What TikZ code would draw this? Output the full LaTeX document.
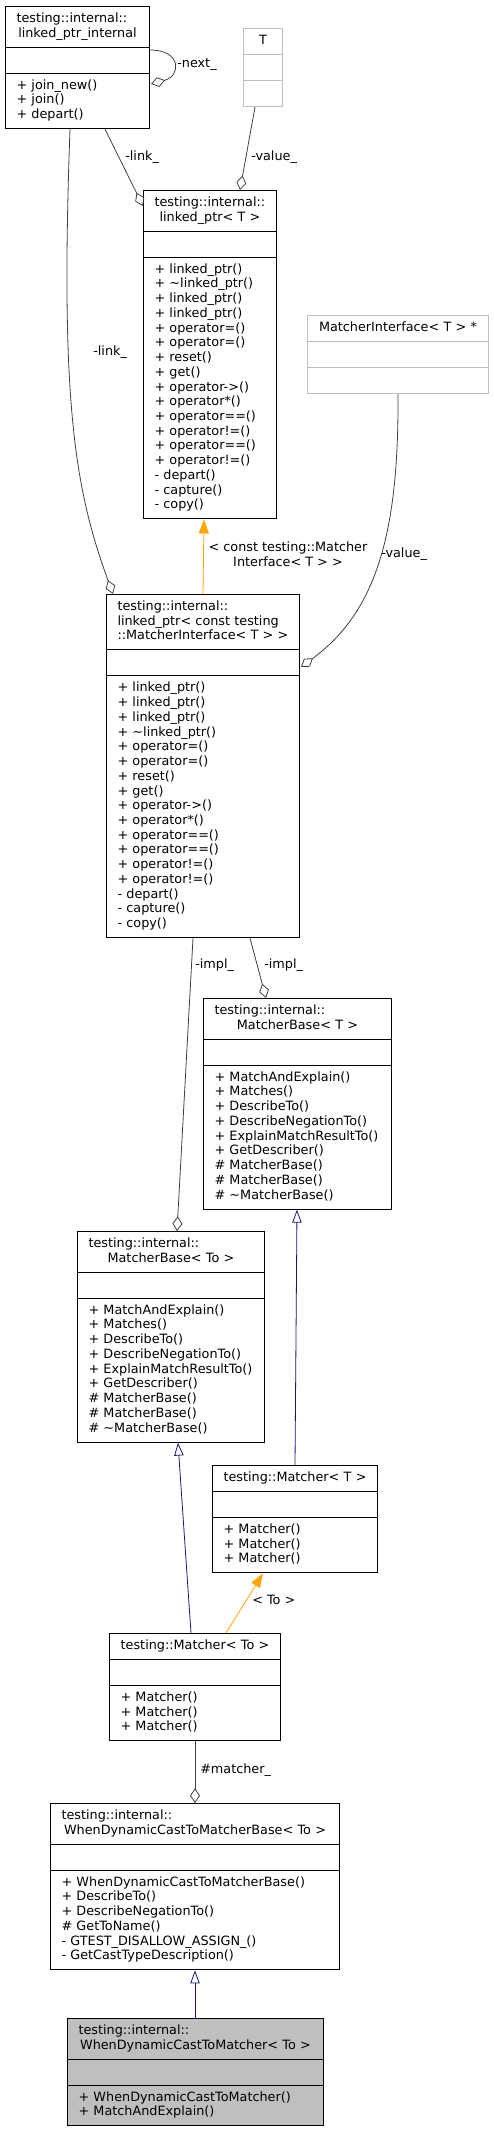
\documentclass[tikz,border=0pt]{standalone}
\usepackage{fontspec}
\setmainfont{DejaVu Sans}
\usetikzlibrary{shapes.multipart,arrows.meta,calc}

\definecolor{edgegray}{HTML}{404040}
\definecolor{boxgray}{HTML}{BFBFBF}
\definecolor{inhblue}{HTML}{191970}
\definecolor{tplorange}{HTML}{FFA500}

\newcommand{\classfont}{\fontsize{9.6pt}{11.05pt}\selectfont\parskip=0pt\relax}
\newcommand{\ctitle}[2]{{\leftskip=8.25pt\rightskip=0pt plus 1fil\relax\strut#1\par}{\centering\strut#2\strut\par}}
\newcommand{\cname}[1]{{\centering\strut#1\strut\par}}
\newcommand{\cbody}[1]{{\leftskip=8.25pt\rightskip=0pt plus 1fil\relax\strut#1\strut\par}}

\tikzset{
  cls/.style={rectangle split, rectangle split parts=3, draw=black, line width=0.75pt,
    text width=#1, inner xsep=0pt, inner ysep=3.85pt, anchor=north west, font=\classfont},
  nodoc/.style={draw=boxgray},
  use/.style={draw=edgegray, line width=0.6pt, -{Diamond[open, length=11pt, width=7.5pt]}},
  inh/.style={draw=inhblue, line width=0.6pt, -{Triangle[open, length=9.75pt, width=7pt]}},
  tpl/.style={draw=tplorange, line width=0.6pt, -{Triangle[length=10.5pt, width=7.5pt, fill=tplorange]}},
  lbl/.style={font=\classfont, inner sep=0pt, anchor=west}
}

\begin{document}
\begin{tikzpicture}[x=0.75pt, y=-0.75pt]
\useasboundingbox (0,0) rectangle (493,2129);

\node (lpi) [cls=108pt] at (5,6) {\ctitle{testing::internal::}{linked\_ptr\_internal}
  \nodepart{two}\strut
  \nodepart{three}\cbody{+ join\_new()\\+ join()\\+ depart()}};
\node (tpar) [cls=29.25pt, nodoc] at (243,28) {\cname{T}
  \nodepart{two}\strut
  \nodepart{three}\strut};
\node (lpt) [cls=99.75pt] at (143,190) {\ctitle{testing::internal::}{linked\_ptr< T >}
  \nodepart{two}\strut
  \nodepart{three}\cbody{+ linked\_ptr()\\+ \textasciitilde linked\_ptr()\\+ linked\_ptr()\\+ linked\_ptr()\\+ operator=()\\+ operator=()\\+ reset()\\+ get()\\+ operator->()\\+ operator*()\\+ operator==()\\+ operator!=()\\+ operator==()\\+ operator!=()\\- depart()\\- capture()\\- copy()}};
\node (mif) [cls=135.75pt, nodoc] at (307,315) {\cname{MatcherInterface< T > *}
  \nodepart{two}\strut
  \nodepart{three}\strut};
\node (lpc) [cls=144.75pt] at (106,594) {\ctitle{testing::internal::\\linked\_ptr< const testing}{::MatcherInterface< T > >}
  \nodepart{two}\strut
  \nodepart{three}\cbody{+ linked\_ptr()\\+ linked\_ptr()\\+ linked\_ptr()\\+ \textasciitilde linked\_ptr()\\+ operator=()\\+ operator=()\\+ reset()\\+ get()\\+ operator->()\\+ operator*()\\+ operator==()\\+ operator==()\\+ operator!=()\\+ operator!=()\\- depart()\\- capture()\\- copy()}};
\node (mbt) [cls=141pt] at (203,998) {\ctitle{testing::internal::}{MatcherBase< T >}
  \nodepart{two}\strut
  \nodepart{three}\cbody{+ MatchAndExplain()\\+ Matches()\\+ DescribeTo()\\+ DescribeNegationTo()\\+ ExplainMatchResultTo()\\+ GetDescriber()\\\# MatcherBase()\\\# MatcherBase()\\\# \textasciitilde MatcherBase()}};
\node (mbto) [cls=140.25pt] at (77,1231) {\ctitle{testing::internal::}{MatcherBase< To >}
  \nodepart{two}\strut
  \nodepart{three}\cbody{+ MatchAndExplain()\\+ Matches()\\+ DescribeTo()\\+ DescribeNegationTo()\\+ ExplainMatchResultTo()\\+ GetDescriber()\\\# MatcherBase()\\\# MatcherBase()\\\# \textasciitilde MatcherBase()}};
\node (mt) [cls=123.75pt] at (212,1465) {\cname{testing::Matcher< T >}
  \nodepart{two}\strut
  \nodepart{three}\cbody{+ Matcher()\\+ Matcher()\\+ Matcher()}};
\node (mto) [cls=128.25pt] at (109,1633) {\cname{testing::Matcher< To >}
  \nodepart{two}\strut
  \nodepart{three}\cbody{+ Matcher()\\+ Matcher()\\+ Matcher()}};
\node (wdb) [cls=216.75pt] at (50,1803) {\ctitle{testing::internal::}{WhenDynamicCastToMatcherBase< To >}
  \nodepart{two}\strut
  \nodepart{three}\cbody{+ WhenDynamicCastToMatcherBase()\\+ DescribeTo()\\+ DescribeNegationTo()\\\# GetToName()\\- GTEST\_DISALLOW\_ASSIGN\_()\\- GetCastTypeDescription()}};
\node (wdm) [cls=192pt, fill=boxgray] at (67,2018) {\ctitle{testing::internal::}{WhenDynamicCastToMatcher< To >}
  \nodepart{two}\strut
  \nodepart{three}\cbody{+ WhenDynamicCastToMatcher()\\+ MatchAndExplain()}};

% Arrows
\draw[use] ($(lpi.north east)+(0,44)$) .. controls +(32,0) and +(30,-8) .. ($(lpi.north east)+(1,78)$);
\draw[use] ($(lpi.south west)+(100,0)$) -- ($(lpt.north west)+(0,16)$);
\draw[use] ($(tpar.south west)+(12,0)$) -- ($(lpt.north west)+(97,0)$);
\draw[use] ($(lpi.south west)+(65,0)$) .. controls +(-10,274) and +(-38,-104) .. ($(lpc.north west)+(7,0)$);
\draw[use] ($(mif.south west)+(91,0)$) .. controls +(1,140) and +(75,-55) .. ($(lpc.north east)+(1,73)$);
\draw[tpl] ($(lpc.north west)+(97,0)$) -- ($(lpt.south west)+(61,0)$);
\draw[use] ($(lpc.south west)+(87,0)$) -- ($(mbto.north west)+(100,0)$);
\draw[use] ($(lpc.south west)+(144,0)$) -- ($(mbt.north west)+(63,0)$);
\draw[inh] ($(mt.north west)+(83,0)$) -- ($(mbt.south west)+(94,0)$);
\draw[inh] ($(mto.north west)+(82,0)$) -- ($(mbto.south west)+(101,0)$);
\draw[tpl] ($(mto.north west)+(117,0)$) -- ($(mt.south west)+(51,0)$);
\draw[use] ($(mto.south west)+(86,0)$) -- ($(wdb.north west)+(145,0)$);
\draw[inh] ($(wdm.north west)+(128,0)$) -- ($(wdb.south west)+(145,0)$);

% Labels
\node (lnext) [lbl] at (177,65) {-next\_};
\node (llink) [lbl] at (125,157) {-link\_};
\node (lvalue) [lbl] at (251,157) {-value\_};
\node (llinkc) [lbl] at (93,352) {-link\_};
\node (lvaluec) [lbl] at (381,554) {-value\_};
\node (lconst) [lbl, anchor=center, align=center] at (288,554) {< const testing::Matcher\\Interface< T > >};
\node (limpl) [lbl] at (195,965) {-impl\_};
\node (limplt) [lbl] at (264,965) {-impl\_};
\node (lto) [lbl] at (252,1600) {< To >};
\node (lmatcher) [lbl] at (200,1770) {\#matcher\_};
\end{tikzpicture}
\end{document}
